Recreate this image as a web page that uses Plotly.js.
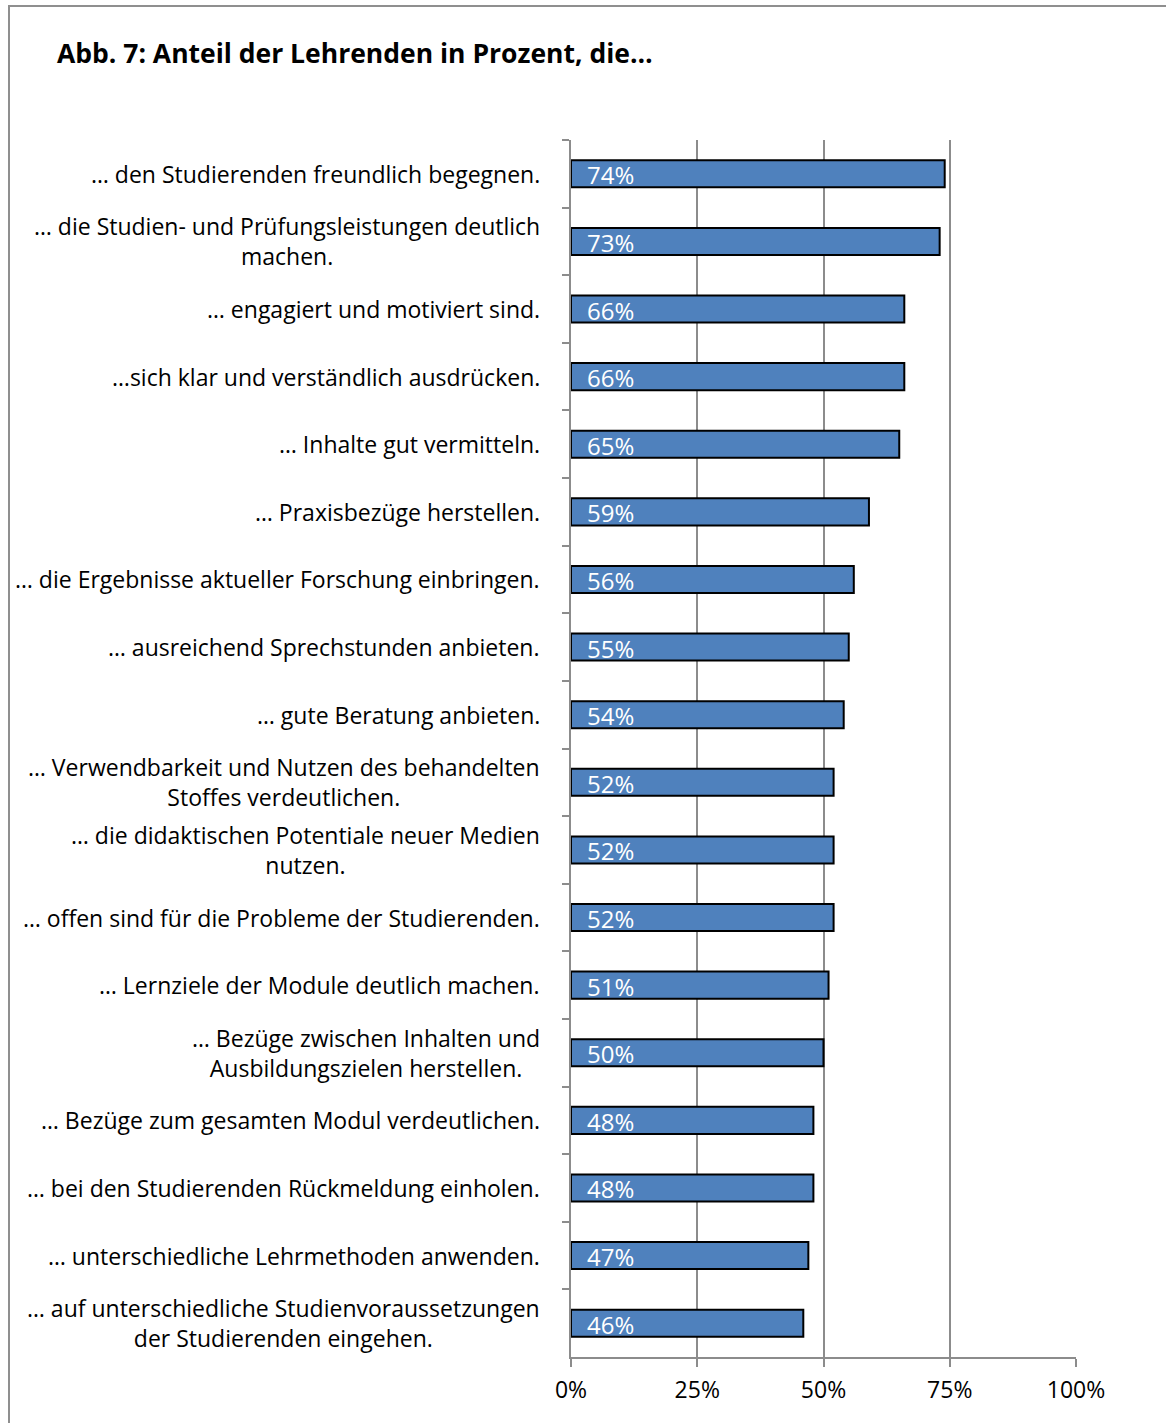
<!DOCTYPE html>
<html>
<head>
<meta charset="utf-8">
<script src="https://cdn.plot.ly/plotly-3.0.1.min.js"></script>
<style>
  html, body { margin: 0; padding: 0; background: #fff; }
  #wrap { position: relative; width: 1166px; height: 1423px; }
  #chart { position: absolute; left: 0; top: 0; width: 1166px; height: 1423px; }
  #frame { position: absolute; left: 8px; top: 5px; width: 1200px; height: 1500px;
           border-left: 2px solid #8f8f8f; border-top: 2px solid #8f8f8f; pointer-events: none; }
</style>
</head>
<body>
<div id="wrap">
  <div id="chart"></div>
  <div id="frame"></div>
</div>
<script>
const categories = [
  "… den Studierenden freundlich begegnen.",
  "… die Studien- und Prüfungsleistungen deutlich<br>machen.",
  "… engagiert und motiviert sind.",
  "…sich klar und verständlich ausdrücken.",
  "… Inhalte gut vermitteln.",
  "… Praxisbezüge herstellen.",
  "… die Ergebnisse aktueller Forschung einbringen.",
  "… ausreichend Sprechstunden anbieten.",
  "… gute Beratung anbieten.",
  "… Verwendbarkeit und Nutzen des behandelten<br>Stoffes verdeutlichen.",
  "… die didaktischen Potentiale neuer Medien<br>nutzen.",
  "… offen sind für die Probleme der Studierenden.",
  "… Lernziele der Module deutlich machen.",
  "… Bezüge zwischen Inhalten und<br>Ausbildungszielen herstellen.",
  "… Bezüge zum gesamten Modul verdeutlichen.",
  "… bei den Studierenden Rückmeldung einholen.",
  "… unterschiedliche Lehrmethoden anwenden.",
  "… auf unterschiedliche Studienvoraussetzungen<br>der Studierenden eingehen."
];
const values = [74, 73, 66, 66, 65, 59, 56, 55, 54, 52, 52, 52, 51, 50, 48, 48, 47, 46];
const tickValues = [0, 0.25, 0.5, 0.75, 1];
const tickLabels = ["0%", "25%", "50%", "75%", "100%"];
const titleText = "Abb. 7: Anteil der Lehrenden in Prozent, die…";

const FONT = "'Open Sans', 'Noto Sans', sans-serif";
const fractions = values.map(v => v / 100);

const trace = {
  type: "bar",
  orientation: "h",
  x: fractions,
  y: categories,
  width: 0.4,
  marker: { color: "#4F81BD", line: { color: "#000000", width: 2 } },
  hoverinfo: "skip"
};

const annotations = [];
categories.forEach((c, i) => {
  annotations.push({
    xref: "paper", yref: "y", x: 0, y: c,
    xanchor: "right", yanchor: "middle", xshift: -29,
    text: c, showarrow: false, align: "center",
    font: { family: FONT, size: 23, color: "#000" }
  });
  annotations.push({
    xref: "x", yref: "y", x: 0, y: c,
    xanchor: "left", yanchor: "middle", xshift: 14, yshift: -1,
    text: values[i] + "%", showarrow: false,
    font: { family: FONT, size: 24, color: "#ffffff" }
  });
});

const layout = {
  width: 1166, height: 1423,
  margin: { l: 571, r: 90, t: 140, b: 66, pad: 0 },
  paper_bgcolor: "#ffffff", plot_bgcolor: "#ffffff",
  showlegend: false,
  title: {
    text: "<b>" + titleText + "</b>",
    x: 57 / 1166, xanchor: "left", xref: "container",
    y: 1 - 54 / 1423, yanchor: "middle", yref: "container",
    font: { family: FONT, size: 26.5, color: "#000" }
  },
  xaxis: {
    range: [0, 1],
    tickvals: tickValues, ticktext: tickLabels,
    showgrid: true, gridcolor: "#8c8c8c", gridwidth: 2,
    zeroline: false,
    showline: true, linecolor: "#8c8c8c", linewidth: 2,
    ticks: "outside", ticklen: 8, tickcolor: "#8c8c8c", tickwidth: 2,
    ticklabelstandoff: 3,
    tickfont: { family: FONT, size: 23, color: "#000" },
    fixedrange: true
  },
  yaxis: {
    type: "category",
    autorange: "reversed",
    tickson: "boundaries",
    showticklabels: false,
    ticks: "outside", ticklen: 7, tickcolor: "#8c8c8c", tickwidth: 2,
    showline: true, linecolor: "#8c8c8c", linewidth: 2,
    showgrid: false, zeroline: false,
    fixedrange: true
  },
  annotations: annotations
};

Plotly.newPlot("chart", [trace], layout, { displayModeBar: false, staticPlot: true });
</script>
</body>
</html>
